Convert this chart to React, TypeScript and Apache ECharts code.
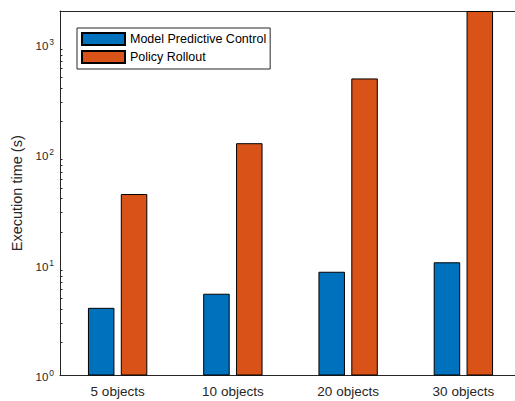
import React, { useEffect, useRef } from "react";
import * as echarts from "echarts";

const categories = ["5 objects", "10 objects", "20 objects", "30 objects"];
const mpcValues = [4.1, 5.5, 8.7, 10.6];
const rolloutValues = [44, 127, 490, 2000];
const majorTicks = [1, 10, 100, 1000];
const minorTicks = [2, 3, 4, 5, 6, 7, 8, 9, 20, 30, 40, 50, 60, 70, 80, 90, 200, 300, 400, 500, 600, 700, 800, 900, 2000];
const seriesNames = ["Model Predictive Control", "Policy Rollout"];
const yMin = 1;
const yMax = 2000;

const AX = "#262626";
const FONT = "Liberation Sans, Arial, Helvetica, sans-serif";
const CHART_W = 521;
const GRID_LEFT = 60;

export default function App() {
  const ref = useRef<HTMLDivElement>(null);
  useEffect(() => {
    if (!ref.current) return;
    const chart = echarts.init(ref.current, null, { renderer: "svg" });
    chart.setOption({
      animation: false,
      backgroundColor: "#ffffff",
      textStyle: { fontFamily: FONT },
      grid: { left: GRID_LEFT, right: 0, top: 11, bottom: 25.5 },
      legend: {
        orient: "vertical",
        left: 77,
        top: 28,
        padding: [4, 4, 5, 4],
        itemWidth: 43,
        itemHeight: 12,
        itemGap: 4,
        borderColor: AX,
        borderWidth: 1,
        backgroundColor: "#fff",
        icon: "rect",
        textStyle: { fontSize: 12.5, lineHeight: 12, color: "#000", fontFamily: FONT },
        data: seriesNames,
      },
      xAxis: [
        {
          type: "category",
          data: categories,
          position: "bottom",
          axisLine: { lineStyle: { color: AX, width: 1 } },
          axisTick: { inside: true, alignWithLabel: true, length: 3, lineStyle: { color: AX } },
          axisLabel: { color: AX, fontSize: 13.5, margin: 9, fontFamily: FONT },
          splitLine: { show: false },
        },
        {
          type: "category",
          data: categories,
          position: "top",
          axisLine: { lineStyle: { color: AX, width: 1 } },
          axisTick: { inside: true, alignWithLabel: true, length: 3, lineStyle: { color: AX } },
          axisLabel: { show: false },
          splitLine: { show: false },
        },
      ],
      yAxis: [
        {
          type: "log",
          logBase: 10,
          min: yMin,
          max: yMax,
          position: "left",
          offset: 0,
          name: "Execution time (s)",
          nameLocation: "middle",
          nameGap: 34,
          nameTextStyle: { fontSize: 14.5, color: AX, fontFamily: FONT },
          axisLine: { show: true, lineStyle: { color: AX, width: 1 } },
          axisTick: { inside: true, length: 4.5, lineStyle: { color: AX }, customValues: majorTicks },
          axisLabel: {
            customValues: majorTicks,
            margin: 6,
            color: AX,
            formatter: (v: number) => `{b|10}{s|${Math.round(Math.log10(v))}}`,
            rich: {
              b: { fontSize: 11.5, color: AX, fontFamily: FONT, padding: [3, 0, 0, 0] },
              s: { fontSize: 8.5, color: AX, fontFamily: FONT, padding: [0, 0, 5, 1] },
            },
          },
          splitLine: { show: false },
        },
        {
          type: "log",
          logBase: 10,
          min: yMin,
          max: yMax,
          position: "right",
          offset: -(CHART_W - GRID_LEFT),
          axisLine: { show: false, lineStyle: { color: "rgba(0,0,0,0)", width: 0 } },
          axisTick: { show: true, inside: false, length: 2.5, lineStyle: { color: AX }, customValues: minorTicks },
          axisLabel: { show: false },
          splitLine: { show: false },
          splitArea: { show: false },
        },
      ],
      series: [
        {
          name: seriesNames[0],
          type: "bar",
          data: mpcValues,
          barWidth: 26.5,
          barGap: "24%",
          itemStyle: { color: "#0072BD", borderColor: "#000", borderWidth: 1 },
        },
        {
          name: seriesNames[1],
          type: "bar",
          data: rolloutValues,
          barWidth: 26.5,
          barGap: "24%",
          itemStyle: { color: "#D95319", borderColor: "#000", borderWidth: 1 },
        },
      ],
    });
    return () => chart.dispose();
  }, []);
  return (
    <div
      style={{
        position: "fixed",
        left: 0,
        top: 0,
        width: 515,
        height: 401,
        overflow: "hidden",
        background: "#fff",
      }}
    >
      <div ref={ref} style={{ width: CHART_W, height: 401 }} />
    </div>
  );
}
